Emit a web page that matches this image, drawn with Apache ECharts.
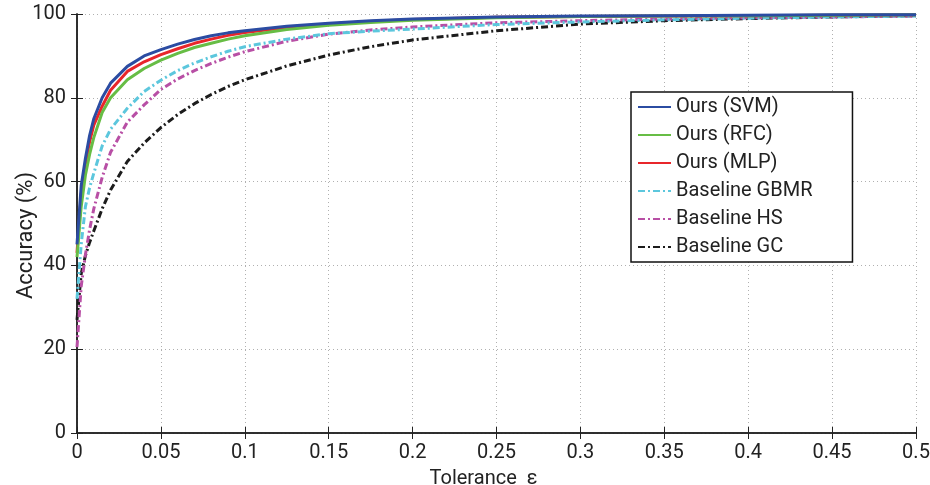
<!DOCTYPE html>
<html>
<head>
<meta charset="utf-8">
<script src="https://cdn.jsdelivr.net/npm/echarts@6/dist/echarts.min.js"></script>
<style>
  html, body { margin: 0; padding: 0; background: #fff; }
  #chart { width: 930px; height: 485px; }
</style>
</head>
<body>
<div id="chart"></div>
<script>
// tolerance values (x) shared by all curves
var tolerance = [0, 0.0025, 0.005, 0.0075, 0.01, 0.015, 0.02, 0.03, 0.04, 0.05, 0.06, 0.07, 0.08, 0.09, 0.1, 0.125, 0.15, 0.175, 0.2, 0.25, 0.3, 0.35, 0.4, 0.45, 0.5];

var seriesNames = ["Ours (SVM)", "Ours (RFC)", "Ours (MLP)", "Baseline GBMR", "Baseline HS", "Baseline GC"];

// accuracy (%)
var oursSVM  = [45, 59, 65.5, 71, 75, 80, 83.5, 87.5, 90, 91.5, 92.8, 93.9, 94.8, 95.5, 96, 97.1, 97.8, 98.4, 98.8, 99.3, 99.5, 99.6, 99.7, 99.8, 99.8];
var oursRFC  = [42, 54, 61.5, 66.5, 70.5, 76.5, 80, 84.3, 87, 89, 90.6, 92, 93, 94, 94.8, 96.3, 97.3, 98, 98.5, 99.1, 99.4, 99.5, 99.6, 99.7, 99.8];
var oursMLP  = [43, 57, 64, 69.5, 73.5, 78, 81.8, 86.3, 88.6, 90.3, 91.7, 93, 94, 94.9, 95.6, 96.8, 97.6, 98.2, 98.7, 99.2, 99.4, 99.5, 99.6, 99.7, 99.8];
var baseGBMR = [32, 45, 54, 58.5, 62, 68.5, 72.5, 77.5, 81.5, 84.2, 86.5, 88.3, 89.8, 91.1, 92.2, 94, 95.3, 95.9, 96.4, 97.5, 98.1, 98.6, 99, 99.3, 99.5];
var baseHS   = [20.5, 35, 42.5, 48.5, 53.5, 61, 67, 74.2, 78.3, 82, 84.5, 86.5, 88.2, 89.7, 91, 93.5, 95.2, 96.2, 96.9, 97.9, 98.4, 98.8, 99.1, 99.3, 99.5];
var baseGC   = [27, 38, 42.3, 45.5, 48.2, 53.5, 58, 64.8, 69.2, 72.9, 76, 78.6, 80.8, 82.7, 84.3, 87.6, 90.2, 92.2, 93.8, 96, 97.6, 98.4, 98.9, 99.3, 99.6];

var colors = ["#2b4ca2", "#67bd45", "#e8262b", "#5cc7dd", "#b84fa5", "#1c1c1c"];
var dashDot = [7, 3, 2, 3];

var font = "Roboto";

function pairs(ys) {
  return tolerance.map(function (x, i) { return [x, ys[i]]; });
}

var chart = echarts.init(document.getElementById("chart"), null, { renderer: "canvas" });

var allValues = [oursSVM, oursRFC, oursMLP, baseGBMR, baseHS, baseGC];

var series = allValues.map(function (ys, i) {
  return {
    name: seriesNames[i],
    type: "line",
    data: pairs(ys),
    symbol: "none",
    z: 10 - i,
    lineStyle: {
      color: colors[i],
      width: 3,
      type: i < 3 ? "solid" : dashDot
    },
    itemStyle: { color: colors[i] }
  };
});

var axisLine = { show: true, lineStyle: { color: "#222", width: 1.5 } };
var gridLine = { show: true, lineStyle: { color: "#b0b0b0", type: [1, 3], width: 1 } };
var tick = { show: true, inside: true, length: 6, lineStyle: { color: "#222", width: 1 } };

var option = {
  animation: false,
  backgroundColor: "#fff",
  grid: { left: 77, right: 14, top: 14, bottom: 52, outerBoundsMode: "none", containLabel: false },
  xAxis: [
    {
      type: "value",
      min: 0,
      max: 0.5,
      interval: 0.05,
      position: "bottom",
      axisLine: axisLine,
      axisTick: tick,
      splitLine: gridLine,
      axisLabel: {
        margin: 10,
        fontFamily: font,
        fontSize: 20,
        color: "#222",
        formatter: function (v) { return String(+v.toFixed(2)); }
      },
      name: "Tolerance  \u03b5",
      nameLocation: "middle",
      nameGap: 36,
      nameTextStyle: { fontFamily: font, fontSize: 20, color: "#222", padding: [0, 26, 0, 0] }
    },
    {
      type: "value",
      min: 0,
      max: 0.5,
      interval: 0.05,
      position: "top",
      axisLine: axisLine,
      axisTick: tick,
      axisLabel: { show: false },
      splitLine: { show: false }
    }
  ],
  yAxis: [
    {
      type: "value",
      min: 0,
      max: 100,
      interval: 20,
      position: "left",
      axisLine: axisLine,
      axisTick: tick,
      splitLine: gridLine,
      axisLabel: { margin: 11, fontFamily: font, fontSize: 20, color: "#222" },
      name: "Accuracy (%)",
      nameLocation: "middle",
      nameRotate: 90,
      nameGap: 40,
      nameMoveOverlap: false,
      nameTextStyle: { fontFamily: font, fontSize: 22, color: "#222", padding: [0, 24, 0, 0] }
    },
    {
      type: "value",
      min: 0,
      max: 100,
      interval: 20,
      position: "right",
      axisLine: axisLine,
      axisTick: tick,
      axisLabel: { show: false },
      splitLine: { show: false }
    }
  ],
  legend: {
    data: seriesNames,
    orient: "vertical",
    left: 631,
    top: 92,
    padding: [5, 40, 5, 6],
    itemWidth: 33,
    itemHeight: 14,
    itemGap: 8,
    backgroundColor: "#fff",
    borderColor: "#111",
    borderWidth: 1.5,
    itemStyle: { opacity: 0 },
    textStyle: { fontFamily: font, fontSize: 20, color: "#222", lineHeight: 20 }
  },
  series: series
};

chart.setOption(option);
</script>
</body>
</html>
